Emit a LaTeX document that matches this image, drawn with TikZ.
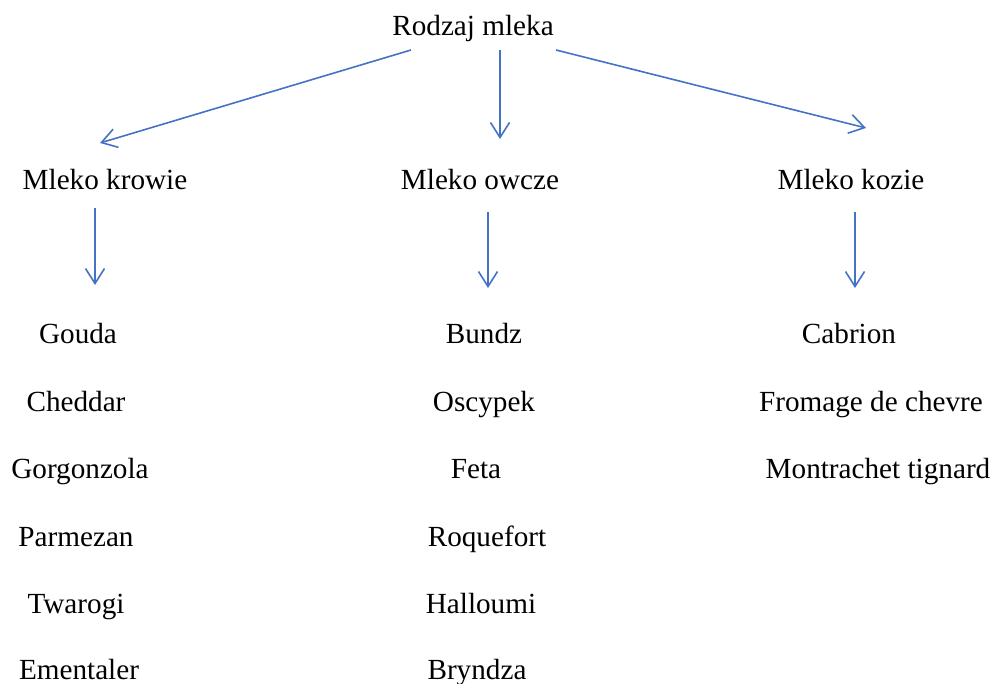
\documentclass[tikz,border=0pt]{standalone}
\usepackage{fontspec}
\setmainfont{Liberation Serif}
\usetikzlibrary{arrows.meta}
\definecolor{arrclr}{RGB}{68,114,196}

\begin{document}
\begin{tikzpicture}[
    x=0.5pt, y=-0.5pt,
    font=\fontsize{14.6}{17}\selectfont,
    >={Straight Barb[length=7.5pt, width=9.5pt]},
    lbl/.style  ={anchor=base, inner sep=0pt},
    flow/.style ={->, draw=arrclr, line width=0.8pt},
]
\useasboundingbox (0,0) rectangle (995,684);

% =============== Root ===============
\node[lbl] (root) at (473,36) {Rodzaj mleka};

% =============== Milk kinds ===============
\node[lbl] (cow)   at (105,190) {Mleko krowie};
\node[lbl] (sheep) at (480,190) {Mleko owcze};
\node[lbl] (goat)  at (851,190) {Mleko kozie};

% =============== Cheeses ===============
\foreach \n/\t/\x/\y in {gouda/Gouda/78/343, cheddar/Cheddar/76/411,
    gorgonzola/Gorgonzola/80/478, parmezan/Parmezan/76/546,
    twarogi/Twarogi/76/613, ementaler/Ementaler/79/679}{%
  \node[lbl] (\n) at (\x,\y) {\t};
}
\foreach \n/\t/\x/\y in {bundz/Bundz/484/343, oscypek/Oscypek/484/411,
    feta/Feta/476/478, roquefort/Roquefort/487/546,
    halloumi/Halloumi/481/613, bryndza/Bryndza/477/679}{%
  \node[lbl] (\n) at (\x,\y) {\t};
}
\foreach \n/\t/\x/\y in {cabrion/Cabrion/849/343,
    fromage/Fromage de chevre/871/411,
    montrachet/Montrachet tignard/878/478}{%
  \node[lbl] (\n) at (\x,\y) {\t};
}

% =============== Arrow ends ===============
\coordinate (rootL) at (411,50);
\coordinate (rootM) at (500,50);
\coordinate (rootR) at (556,50);
\coordinate (cowT)   at (100,143);
\coordinate (sheepT) at (500,139);
\coordinate (goatT)  at (866,128);
\coordinate (cowB)   at (95,208);
\coordinate (sheepB) at (488,212);
\coordinate (goatB)  at (855,212);
\coordinate (cowL)   at (95,285);
\coordinate (sheepL) at (488,288);
\coordinate (goatL)  at (855,288);

% =============== Wires ===============
\foreach \src/\dst in {rootL/cowT, rootM/sheepT, rootR/goatT,
    cowB/cowL, sheepB/sheepL, goatB/goatL}{%
  \draw[flow] (\src) -- (\dst);
}

\end{tikzpicture}
\end{document}
